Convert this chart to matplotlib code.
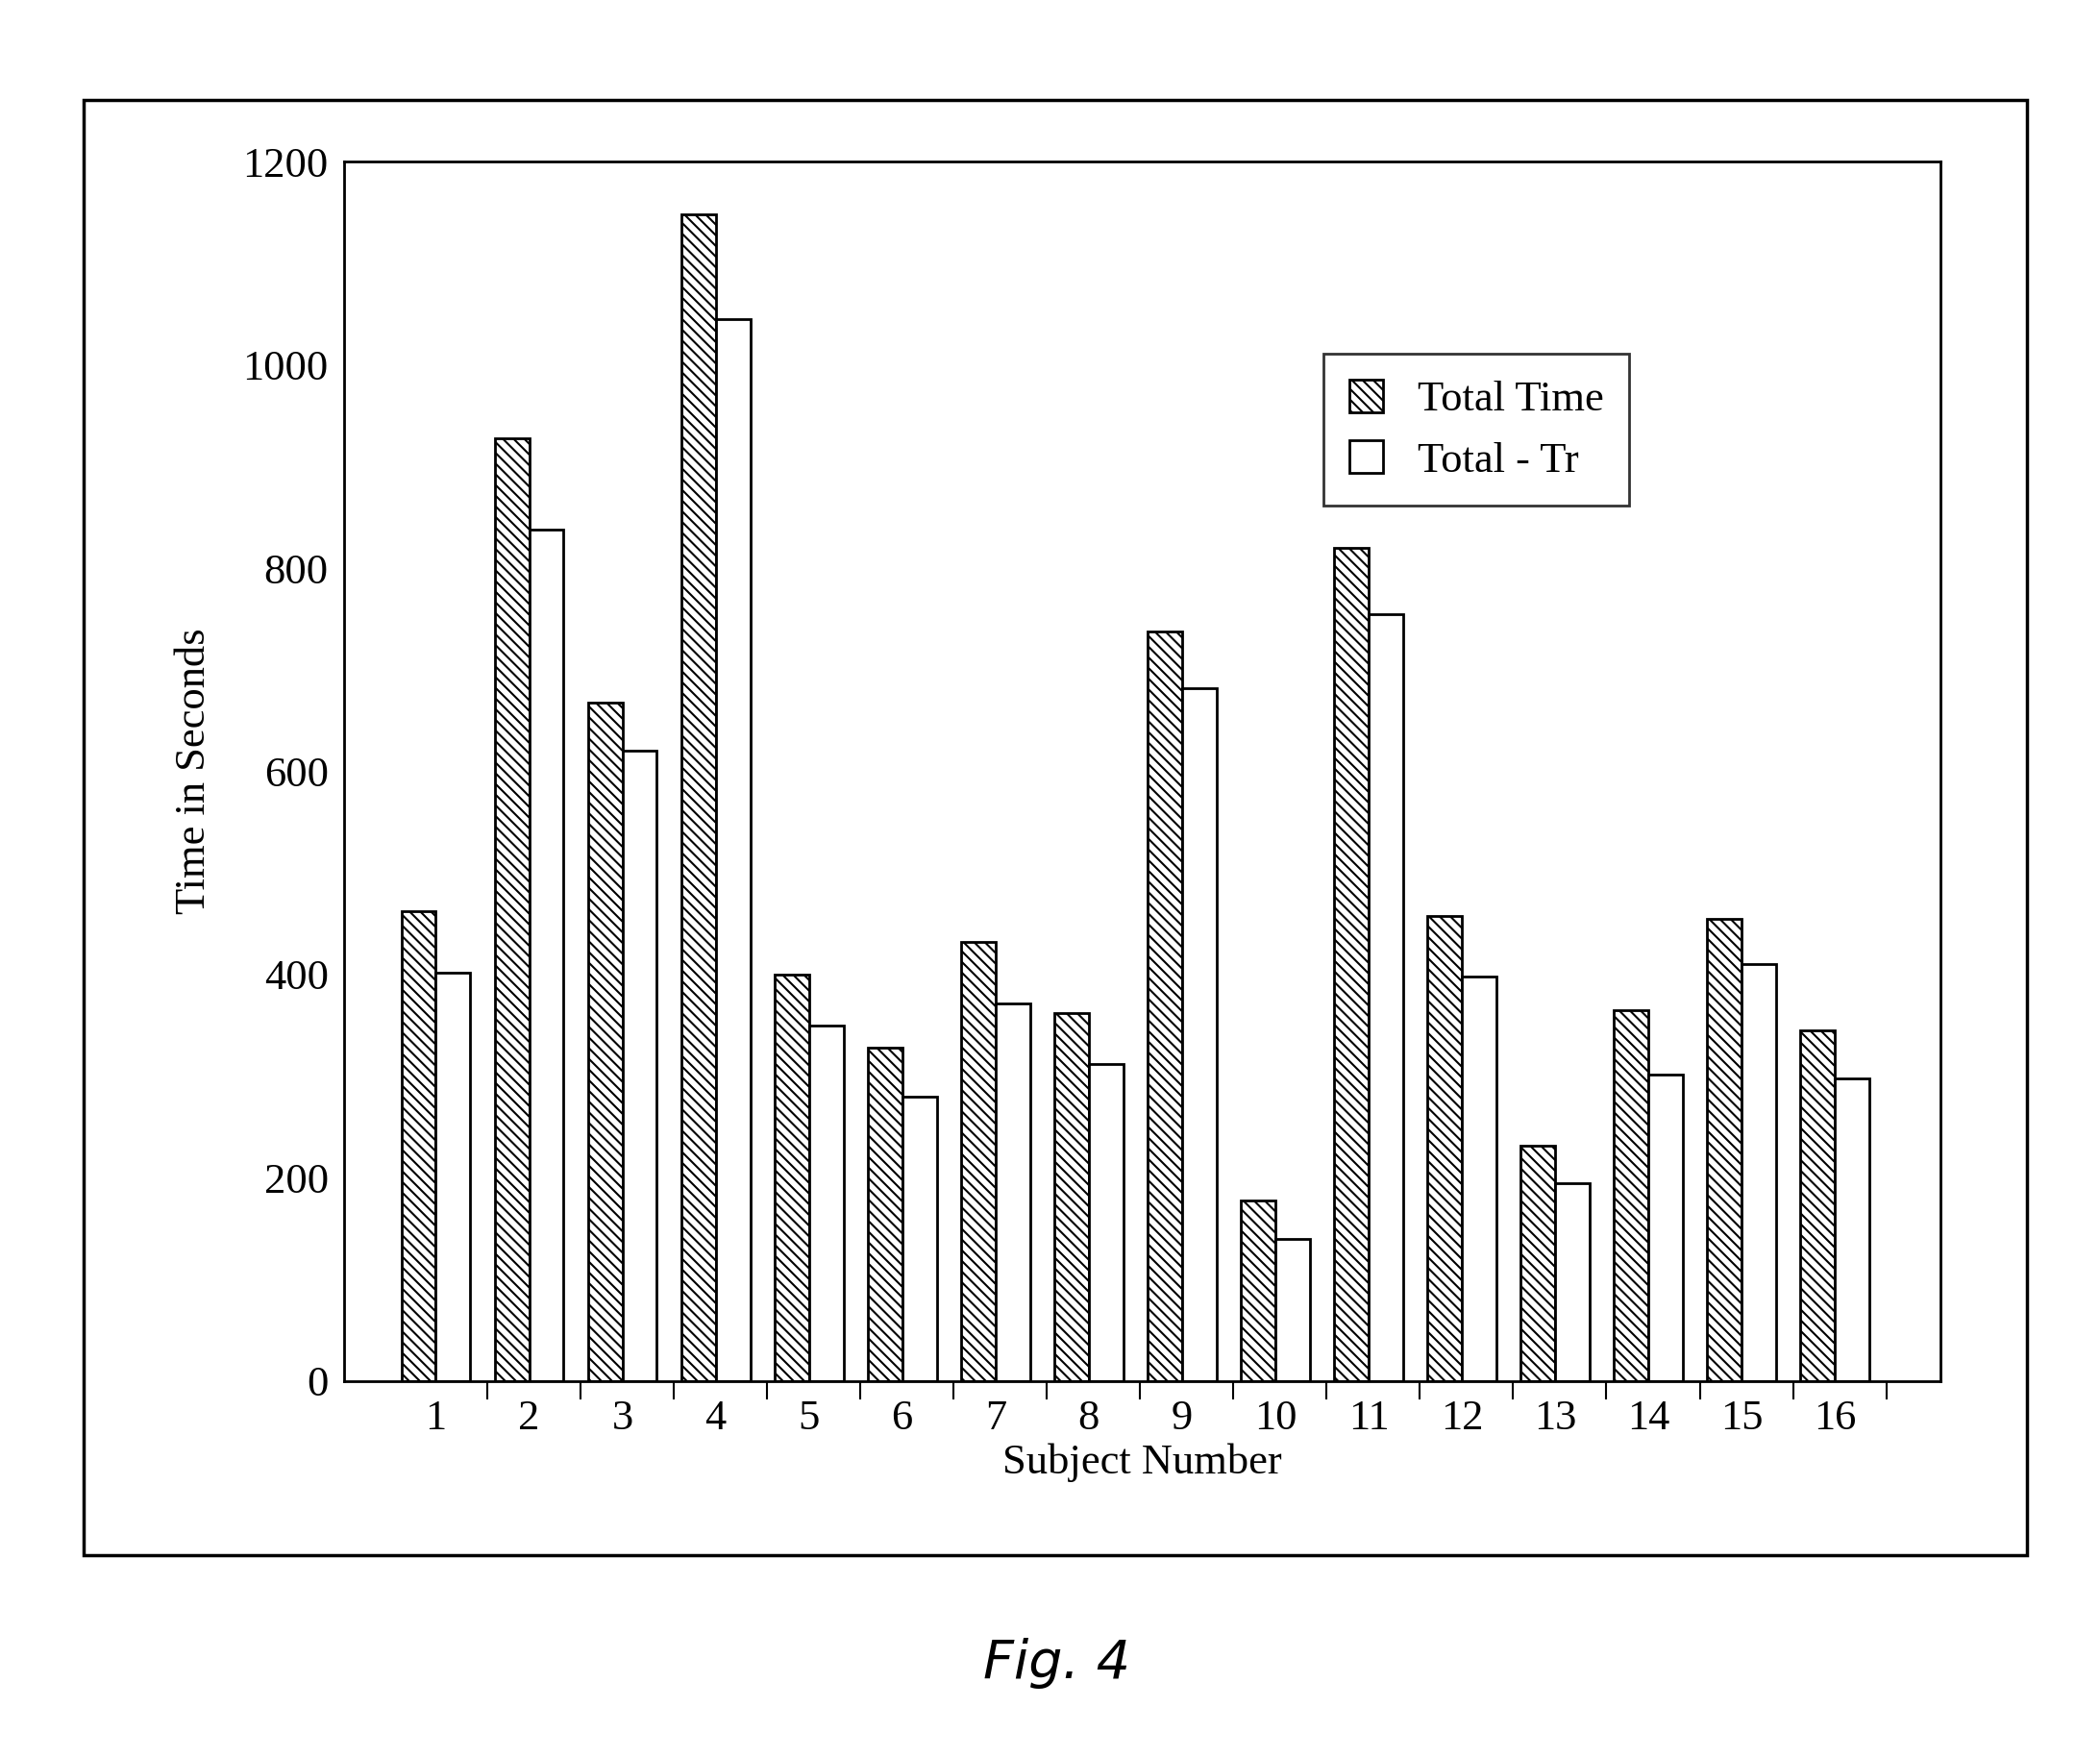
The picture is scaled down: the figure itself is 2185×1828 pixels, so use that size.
import numpy as np
import matplotlib.pyplot as plt
import matplotlib.patches as mpatches

subjects = list(range(1, 17))
total_time = [462, 928, 668, 1148, 400, 328, 432, 362, 738, 178, 820, 458, 232, 365, 455, 345]
total_minus_tr = [402, 838, 620, 1045, 350, 280, 372, 312, 682, 140, 755, 398, 195, 302, 410, 298]

plt.rcParams['font.family'] = 'Liberation Serif'
plt.rcParams['hatch.linewidth'] = 1.5

fig = plt.figure(figsize=(21.85, 18.28), dpi=100)
# outer frame
fig.add_artist(mpatches.Rectangle((0.04, 0.115), 0.925, 0.828, transform=fig.transFigure,
                                  fill=False, lw=2.5, ec='black'))
ax = fig.add_axes([0.164, 0.214, 0.76, 0.694])

x = np.array(subjects)
w = 0.37
ax.bar(x - w / 2, total_time, w, facecolor='white', edgecolor='black', hatch='\\\\\\',
       lw=2, label='Total Time')
ax.bar(x + w / 2, total_minus_tr, w, facecolor='white', edgecolor='black',
       lw=2, label='Total - Tr')

ax.set_xlim(0.02, 17.13)
ax.set_ylim(0, 1200)
ax.set_yticks(range(0, 1201, 200))
ax.set_xticks(x)
ax.set_xticklabels([str(s) for s in subjects])
ax.set_xticks(x + 0.55, minor=True)
ax.tick_params(axis='x', which='major', length=0, labelsize=32, pad=14)
ax.tick_params(axis='x', which='minor', direction='out', length=14, width=1.5)
ax.tick_params(axis='y', length=0, labelsize=32, pad=12)
for s in ax.spines.values():
    s.set_linewidth(2)

ax.set_xlabel('Subject Number', fontsize=32, labelpad=4)
ax.set_ylabel('Time in Seconds', fontsize=32, labelpad=22)

leg = ax.legend(loc='upper left', bbox_to_anchor=(0.6, 0.86), fontsize=32,
                fancybox=False, frameon=True, edgecolor='black',
                handlelength=0.8, handleheight=0.8, borderpad=0.6, labelspacing=0.5)
leg.get_frame().set_linewidth(2)

fig.text(0.503, 0.045, 'Fig. 4', fontsize=40, style='italic', ha='center',
         family='DejaVu Sans')

fig.savefig('out.png', dpi=100)
